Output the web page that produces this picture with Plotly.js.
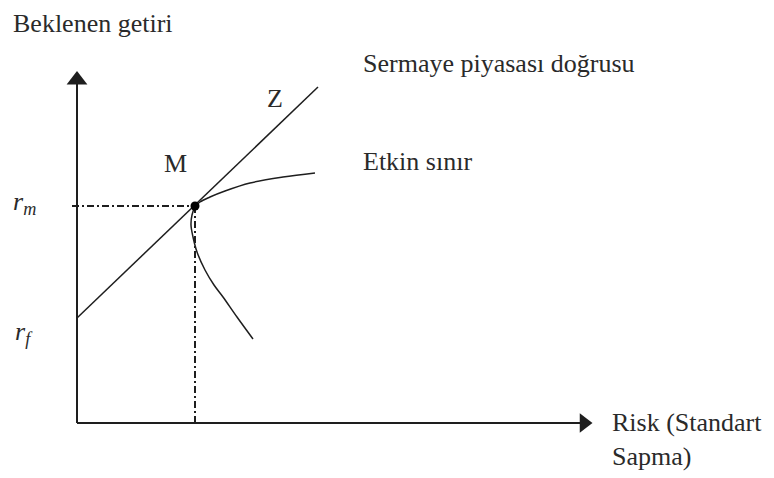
<!DOCTYPE html>
<html>
<head>
<meta charset="utf-8">
<script src="https://cdn.plot.ly/plotly-3.0.1.min.js"></script>
<style>html,body{margin:0;padding:0;background:#fff;}#chart{width:774px;height:478px;}</style>
</head>
<body>
<div id="chart"></div>
<script>
// Diagram values (units: risk on x, expected return on y)
const cmlRisk = [0, 241];
const cmlReturn = [105, 336];
const marketRisk = [118];
const marketReturn = [217];
const frontierRisk = [238, 206, 173, 148, 133, 123, 118, 115, 114, 116, 120, 128, 137, 146, 160, 176];
const frontierReturn = [250, 246, 240, 232, 226, 221, 216, 208, 198, 186, 171, 153, 138, 126, 106, 84];
const axisYEnd = 352;
const axisXEnd = 514;

const ink = '#1e1e1e';
const txt = '#2a2a2a';
const serif = '"Liberation Serif", "DejaVu Serif", "Times New Roman", Times, serif';
const fs = 26;

const traces = [
  {x: [0, 0], y: [0, axisYEnd - 12], mode: 'lines', line: {color: ink, width: 2}},
  {x: [0], y: [axisYEnd - 9], mode: 'markers', marker: {symbol: 'triangle-up', size: 18, color: ink}},
  {x: [0, axisXEnd - 10], y: [0, 0], mode: 'lines', line: {color: ink, width: 2}},
  {x: [axisXEnd - 7], y: [0], mode: 'markers', marker: {symbol: 'triangle-right', size: 17, color: ink}},
  {x: [-5, marketRisk[0]], y: [marketReturn[0], marketReturn[0]], mode: 'lines', line: {color: ink, width: 2, dash: '7px,3px,2px,3px'}},
  {x: [marketRisk[0], marketRisk[0]], y: [marketReturn[0], 0], mode: 'lines', line: {color: ink, width: 2, dash: '7px,3px,2px,3px'}},
  {x: cmlRisk, y: cmlReturn, mode: 'lines', line: {color: ink, width: 1.5}},
  {x: frontierRisk, y: frontierReturn, mode: 'lines', line: {color: ink, width: 1.5, shape: 'spline', smoothing: 1}},
  {x: marketRisk, y: marketReturn, mode: 'markers', marker: {size: 9, color: '#000'}}
];

function ann(text, x, y, xa, ya, extra) {
  return Object.assign({text: text, x: x, y: y, xref: 'x', yref: 'y', xanchor: xa, yanchor: ya,
    showarrow: false, font: {family: serif, size: fs, color: txt}, align: 'left'}, extra || {});
}

const layout = {
  width: 774, height: 478,
  margin: {l: 0, r: 0, t: 0, b: 0, pad: 0},
  paper_bgcolor: '#fff', plot_bgcolor: '#fff',
  showlegend: false,
  font: {family: serif},
  xaxis: {range: [-77, 697], visible: false, fixedrange: true},
  yaxis: {range: [-55, 423], visible: false, fixedrange: true},
  annotations: [
    ann('Beklenen getiri', -66, 400, 'left', 'middle'),
    ann('Sermaye piyasası doğrusu', 284, 360, 'left', 'middle'),
    ann('Etkin sınır', 284, 262, 'left', 'middle'),
    ann('Risk (Standart<br>Sapma)', 533, -16, 'left', 'middle'),
    ann('Z', 198, 325, 'center', 'middle'),
    ann('M', 98, 260, 'center', 'middle'),
    ann('<i>r<sub>m</sub></i>', -53, 220, 'center', 'middle'),
    ann('<i>r<sub>f</sub></i>', -53, 90, 'center', 'middle')
  ]
};

Plotly.newPlot('chart', traces, layout, {staticPlot: true, displayModeBar: false});
</script>
</body>
</html>
